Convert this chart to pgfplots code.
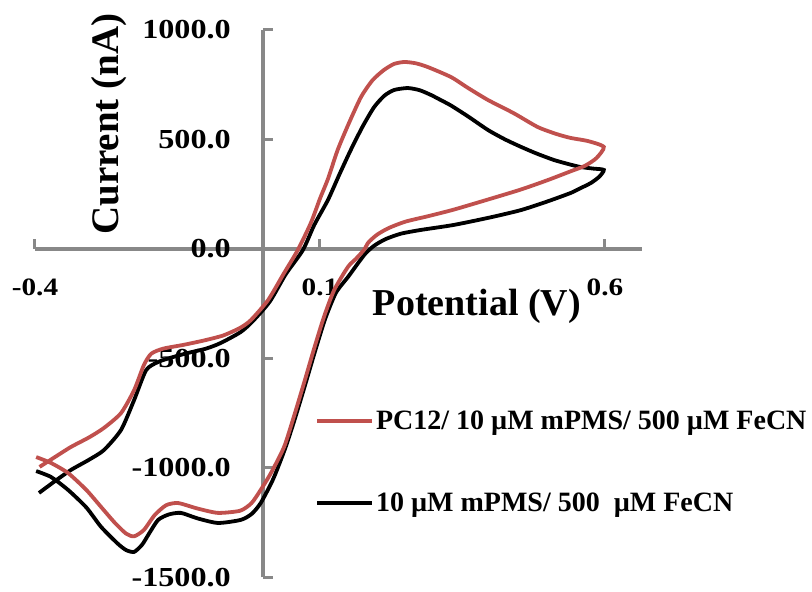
\documentclass[border=0pt]{standalone}
\usepackage{pgfplots}
\pgfplotsset{compat=1.18}
\usepackage{fontspec}
\setmainfont{Liberation Serif}
\newfontfamily\tickfam{Liberation Serif}[FakeStretch=1.17]
\definecolor{cvred}{RGB}{192,80,77}
\definecolor{axgray}{RGB}{136,136,136}
\begin{document}
\begin{tikzpicture}
\useasboundingbox (0,0) rectangle (812pt,592pt);
\begin{axis}[
  at={(35pt,14.5pt)}, anchor=south west,
  scale only axis, width=607pt, height=547.5pt,
  xmin=-0.4, xmax=0.665, ymin=-1500, ymax=1000,
  axis lines=middle,
  axis line style={-, axgray, line width=3.5pt},
  every inner x axis line/.append style={-},
  every inner y axis line/.append style={-},
  hide obscured x ticks=false, hide obscured y ticks=false,
  xtick={-0.4,0.1,0.6}, xticklabels={-0.4,0.1,0.6},
  ytick={-1500,-1000,-500,0,500,1000},
  yticklabels={-1500.0,-1000.0,-500.0,0.0,500.0,1000.0},
  tick style={axgray, line width=3pt},
  major tick length=10pt, tick align=inside,
  xticklabel style={anchor=center, inner sep=0pt, yshift=-38pt, font=\tickfam\bfseries\fontsize{25}{28}\selectfont},
  yticklabel style={anchor=east, inner sep=0pt, xshift=-32pt, font=\tickfam\bfseries\fontsize{27.5}{30}\selectfont},
  every axis x label/.style={at={(axis description cs:0.728,0.496)}, anchor=center, font=\bfseries\fontsize{38}{42}\selectfont},
  every axis y label/.style={at={(axis description cs:0.122,0.828)}, anchor=center, rotate=90, font=\bfseries\fontsize{39}{42}\selectfont},
  xlabel={Potential (V)}, ylabel={Current (nA)},
  clip=false,
  reverse legend,
  legend cell align=left,
  legend image code/.code={\draw[#1, line width=4pt] (0pt,0pt) -- (55pt,0pt);},
  legend style={at={(axis description cs:0.461,0.211)}, anchor=west, draw=none, fill=none,
    inner sep=0pt, row sep=57pt, font=\bfseries\fontsize{28}{30}\selectfont,
    nodes={inner sep=2pt}},
]
\addplot[black, line width=3.8pt, smooth, tension=0.4] coordinates {
(-0.393,-1114) (-0.365,-1060) (-0.337,-1009) (-0.305,-962) (-0.279,-918)
(-0.249,-826) (-0.226,-689) (-0.205,-553) (-0.184,-516) (-0.160,-495)
(-0.132,-475) (-0.100,-455) (-0.074,-429) (-0.039,-379) (-0.018,-330)
(0.012,-240) (0.040,-115) (0.070,-5) (0.090,110) (0.114,224) (0.134,340)
(0.154,452) (0.175,560) (0.195,648) (0.213,700) (0.230,726) (0.254,735)
(0.275,725) (0.295,703) (0.312,680) (0.330,655) (0.360,605) (0.395,543)
(0.425,500) (0.453,466) (0.480,436) (0.511,406) (0.540,385) (0.558,374)
(0.580,367) (0.598,361)
(0.590,330) (0.575,301) (0.555,275) (0.540,256) (0.500,218) (0.453,178)
(0.400,145) (0.335,110) (0.277,87) (0.242,70) (0.215,45) (0.195,15)
(0.180,-20) (0.167,-64) (0.150,-125) (0.128,-200) (0.109,-320) (0.091,-470)
(0.074,-620) (0.056,-775) (0.039,-910) (0.018,-1050) (-0.004,-1160)
(-0.020,-1210) (-0.039,-1237) (-0.079,-1251) (-0.115,-1230) (-0.144,-1205)
(-0.165,-1212) (-0.184,-1237) (-0.200,-1300) (-0.212,-1350) (-0.226,-1383)
(-0.240,-1375) (-0.255,-1345) (-0.284,-1269) (-0.310,-1180) (-0.342,-1100)
(-0.372,-1041) (-0.398,-1014)
};
\addlegendentry{10 µM mPMS/ 500 \ µM FeCN}
\addplot[cvred, line width=3.8pt, smooth, tension=0.4] coordinates {
(-0.392,-995) (-0.365,-950) (-0.337,-904) (-0.305,-860) (-0.279,-817)
(-0.249,-749) (-0.226,-644) (-0.209,-530) (-0.196,-478) (-0.175,-455)
(-0.140,-438) (-0.104,-418) (-0.070,-395) (-0.040,-360) (-0.021,-324)
(0.009,-233) (0.037,-110) (0.061,-5) (0.084,119) (0.100,230) (0.114,320)
(0.131,452) (0.150,570) (0.172,694) (0.192,770) (0.212,817) (0.230,845)
(0.248,854) (0.268,848) (0.289,831) (0.330,785) (0.360,735) (0.395,680)
(0.440,620) (0.482,557) (0.515,525) (0.540,507) (0.570,493) (0.598,466)
(0.585,415) (0.565,380) (0.540,355) (0.500,315) (0.453,272) (0.400,230)
(0.335,180) (0.290,150) (0.250,125) (0.220,95) (0.200,65) (0.185,30)
(0.177,-5) (0.163,-45) (0.149,-82) (0.125,-187) (0.107,-310) (0.089,-461)
(0.072,-612) (0.054,-767) (0.037,-904) (0.014,-1023) (-0.004,-1100)
(-0.020,-1160) (-0.040,-1195) (-0.079,-1205) (-0.115,-1185) (-0.149,-1160)
(-0.170,-1170) (-0.190,-1215) (-0.209,-1283) (-0.226,-1312) (-0.240,-1300)
(-0.260,-1250) (-0.284,-1178) (-0.310,-1100) (-0.342,-1023) (-0.372,-977)
(-0.398,-950)
};
\addlegendentry{PC12/ 10 µM mPMS/ 500 µM FeCN}
\end{axis}
\end{tikzpicture}
\end{document}
